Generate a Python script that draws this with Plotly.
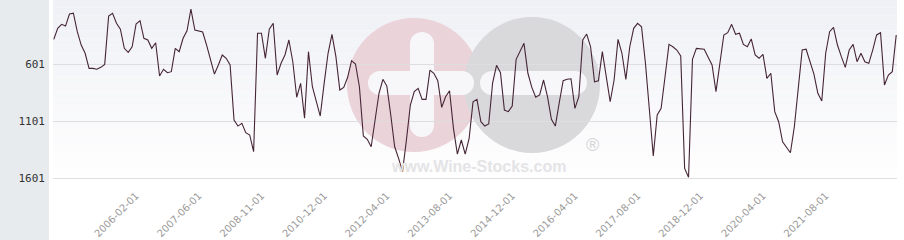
import plotly.graph_objects as go

# Rank values, one per period (lower = better, axis reversed)
rank_values = [
    385, 289, 254, 269, 164, 157, 318, 435, 507, 639, 639, 647, 630, 604, 181, 157,
    245, 297, 464, 499, 450, 251, 222, 376, 391, 464, 415, 706, 647, 677, 668, 464,
    493, 376, 310, 120, 304, 310, 321, 435, 560, 689, 610, 522, 551, 610, 1091, 1144,
    1120, 1202, 1222, 1368, 332, 332, 551, 297, 245, 697, 595, 522, 391, 581, 892, 770,
    1076, 493, 800, 931, 1056, 770, 507, 341, 537, 829, 805, 717, 572, 601, 800, 1231,
    1260, 1325, 1106, 857, 735, 794, 1047, 1325, 1426, 1543, 1266, 960, 843, 814, 910, 910,
    654, 682, 747, 980, 887, 835, 1164, 1389, 1266, 1389, 1251, 931, 910, 1106, 1144, 1126,
    765, 612, 677, 1004, 1018, 969, 560, 493, 420, 682, 805, 892, 872, 741, 887, 1085,
    1144, 940, 747, 735, 730, 989, 887, 391, 339, 450, 756, 747, 493, 712, 931, 741,
    385, 507, 735, 450, 289, 245, 275, 595, 1004, 1406, 1047, 989, 712, 429, 450, 479,
    531, 1514, 1592, 560, 464, 470, 472, 542, 610, 843, 595, 347, 327, 254, 341, 332,
    429, 450, 382, 522, 551, 516, 726, 682, 1018, 1106, 1281, 1325, 1377, 1150, 800, 479,
    472, 581, 689, 857, 925, 507, 318, 280, 435, 537, 630, 479, 429, 581, 507, 581,
    595, 479, 347, 327, 785, 697, 668, 347,
]

tick_labels = [
    "2006-02-01", "2007-06-01", "2008-11-01", "2010-12-01", "2012-04-01", "2013-08-01",
    "2014-12-01", "2016-04-01", "2017-08-01", "2018-12-01", "2020-04-01", "2021-08-01",
]
first_tick_index = 21
tick_every = 16
y_ticks = [601, 1101, 1601]

x_idx = list(range(len(rank_values)))
tick_idx = [first_tick_index + tick_every * k for k in range(len(tick_labels))]

W, H = 904, 240
ML, MR, MT, MB = 53, 7, 0, 57
PW, PH = W - ML - MR, H - MT - MB


def px(x):
    return (x - ML) / PW


def py(y):
    return 1 - (y - MT) / PH


shapes = []
# left grey panel
shapes.append(dict(type="rect", xref="paper", yref="paper", x0=px(0), x1=px(49),
                   y0=py(H), y1=py(0), fillcolor="#e8ebee", line_width=0, layer="below"))
# gradient background of plot area
n = 24
for k in range(n):
    t = k / (n - 1)
    c0 = (240, 241, 246)
    c = tuple(int(c0[j] + (255 - c0[j]) * t) for j in range(3))
    shapes.append(dict(type="rect", xref="paper", yref="paper", x0=0, x1=1,
                       y0=1 - (k + 1) / n, y1=1 - k / n,
                       fillcolor="rgb(%d,%d,%d)" % c, line_width=0, layer="below"))


def circle(cx, cy, r, color):
    return dict(type="circle", xref="paper", yref="paper", x0=px(cx - r), x1=px(cx + r),
                y0=py(cy + r), y1=py(cy - r), fillcolor=color, line_width=0, layer="below")


def bar(x0, y0, x1, y1, color="#f7f7fa"):
    return dict(type="rect", xref="paper", yref="paper", x0=px(x0), x1=px(x1),
                y0=py(y1), y1=py(y0), fillcolor=color, line_width=0, layer="below")


def rounded_bar(x0, y0, x1, y1, color="#f7f7fa"):
    out = []
    if (x1 - x0) > (y1 - y0):
        r = (y1 - y0) / 2
        out.append(bar(x0 + r, y0, x1 - r, y1, color))
        out.append(circle(x0 + r, y0 + r, r, color))
        out.append(circle(x1 - r, y0 + r, r, color))
    else:
        r = (x1 - x0) / 2
        out.append(bar(x0, y0 + r, x1, y1 - r, color))
        out.append(circle(x0 + r, y0 + r, r, color))
        out.append(circle(x0 + r, y1 - r, r, color))
    return out


# watermark circles
shapes.append(circle(414, 85, 67, "#ebd3da"))
shapes.append(circle(532, 85, 68, "#d9d9dc"))
# white plus and minus
shapes += rounded_bar(410, 32, 434, 137)
shapes += rounded_bar(368, 71, 474, 95)
shapes += rounded_bar(480, 71, 587, 95)

fig = go.Figure()
fig.add_trace(go.Scatter(x=x_idx, y=rank_values, mode="lines",
                         line=dict(color="#452535", width=1.1), hoverinfo="skip"))

fig.update_layout(
    width=W, height=H,
    margin=dict(l=ML, r=MR, t=MT, b=MB),
    paper_bgcolor="white", plot_bgcolor="white",
    showlegend=False,
    shapes=shapes,
    annotations=[
        dict(text="<b>www.Wine-Stocks.com</b>", xref="paper", yref="paper", x=px(478), y=py(166),
             showarrow=False, font=dict(family="Liberation Sans", size=16, color="#e4e4e6"),
             xanchor="center", yanchor="middle"),
        dict(text="®", xref="paper", yref="paper", x=px(592), y=py(145),
             showarrow=False, font=dict(family="Liberation Sans", size=18, color="#d4d4d6"),
             xanchor="center", yanchor="middle"),
    ],
    xaxis=dict(
        range=[-0.2, len(rank_values) - 0.8],
        tickvals=tick_idx, ticktext=tick_labels, tickangle=-45,
        tickfont=dict(family="DejaVu Sans", size=10, color="#9a9a9a"),
        showgrid=False, zeroline=False, showline=False, ticks="",
        ticklabelstandoff=4,
    ),
    yaxis=dict(
        range=[1642, 41],
        tickvals=y_ticks,
        tickfont=dict(family="DejaVu Sans Mono", size=11, color="#333333"),
        showgrid=True, gridcolor="#dedede", gridwidth=1,
        zeroline=False, showline=False, ticks="", ticklabelstandoff=7,
    ),
)

fig.write_html("out.html")
